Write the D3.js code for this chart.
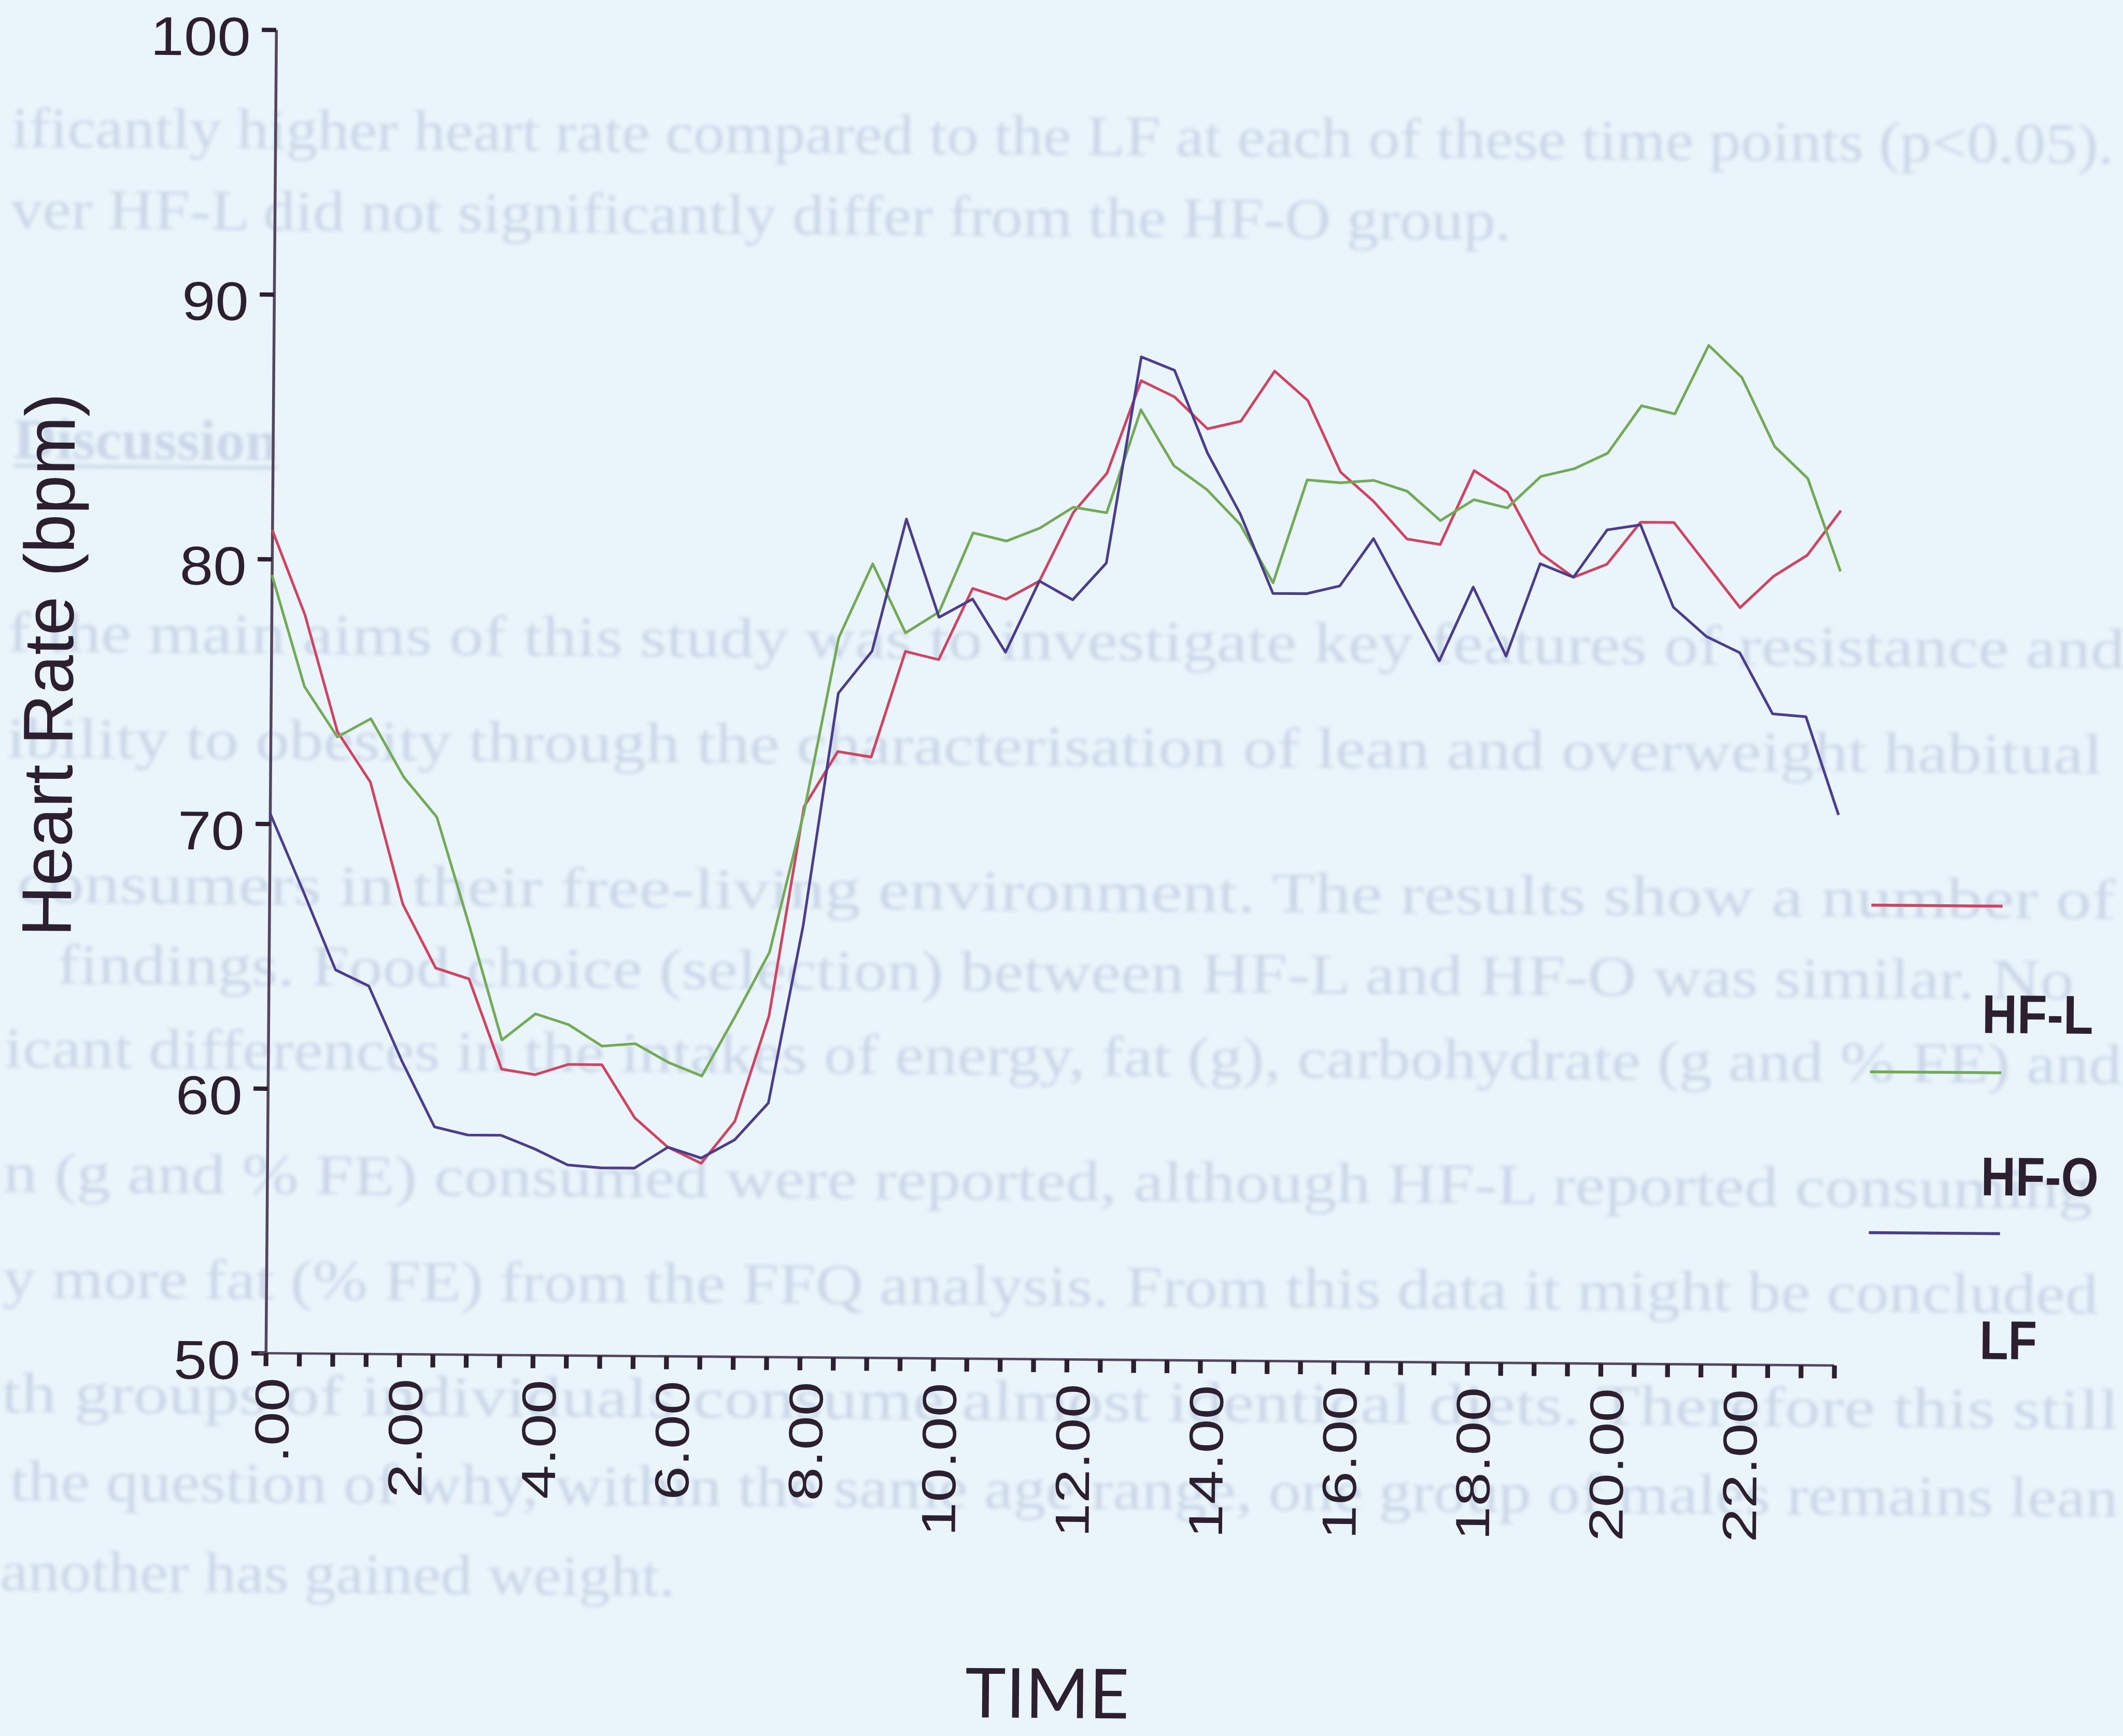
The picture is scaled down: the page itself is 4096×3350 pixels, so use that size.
<!DOCTYPE html>
<html>
<head>
<meta charset="utf-8">
<script src="https://cdn.jsdelivr.net/npm/d3@7"></script>
<style>
  html, body { margin: 0; padding: 0; background: #e9f4fb; overflow: hidden; }
  svg { display: block; }
</style>
</head>
<body>
<svg id="chart" width="4096" height="3350"></svg>
<script>
// ---- data: mean heart rate over 24 h, sampled every half hour ----
const hours = [0, 0.5, 1, 1.5, 2, 2.5, 3, 3.5, 4, 4.5, 5, 5.5, 6, 6.5, 7, 7.5,
               8, 8.5, 9, 9.5, 10, 10.5, 11, 11.5, 12, 12.5, 13, 13.5, 14, 14.5, 15, 15.5,
               16, 16.5, 17, 17.5, 18, 18.5, 19, 19.5, 20, 20.5, 21, 21.5, 22, 22.5, 23, 23.5];

const hfL = [81.1, 77.9, 73.5, 71.6, 67.0, 64.6, 64.2, 60.8,
             60.6, 61.0, 61.0, 59.0, 57.9, 57.3, 58.9, 62.9,
             70.8, 72.9, 72.7, 76.7, 76.4, 79.1, 78.7, 79.4,
             82.0, 83.5, 87.0, 86.4, 85.2, 85.5, 87.4, 86.3,
             83.6, 82.5, 81.1, 80.9, 83.7, 82.9, 80.6, 79.7,
             80.2, 81.8, 81.8, 80.2, 78.6, 79.8, 80.6, 82.3];

const hfO = [79.4, 75.2, 73.3, 74.0, 71.8, 70.3, 66.2, 61.9,
             62.9, 62.5, 61.7, 61.8, 61.1, 60.6, 62.9, 65.3,
             70.6, 77.2, 80.0, 77.4, 78.2, 81.2, 80.9, 81.4,
             82.2, 82.0, 85.9, 83.8, 82.9, 81.6, 79.4, 83.3,
             83.2, 83.3, 82.9, 81.8, 82.6, 82.3, 83.5, 83.8,
             84.4, 86.2, 85.9, 88.5, 87.3, 84.7, 83.5, 80.0];

const lf  = [70.4, 67.5, 64.5, 63.9, 61.1, 58.6, 58.3, 58.3,
             57.8, 57.2, 57.1, 57.1, 57.9, 57.5, 58.2, 59.6,
             66.3, 75.1, 76.7, 81.7, 78.0, 78.7, 76.7, 79.4,
             78.7, 80.1, 87.9, 87.4, 84.3, 82.0, 79.0, 79.0,
             79.3, 81.1, 78.8, 76.5, 79.3, 76.7, 80.2, 79.7,
             81.5, 81.7, 78.6, 77.5, 76.9, 74.6, 74.5, 70.8];

const seriesNames  = ["HF-L", "HF-O", "LF"];
const seriesColors = ["#cf4461", "#73aa57", "#4b3d8c"];

const yTicks = [50, 60, 70, 80, 90, 100];
const xTickLabels = [".00", "2.00", "4.00", "6.00", "8.00", "10.00",
                     "12.00", "14.00", "16.00", "18.00", "20.00", "22.00"];

const yTitle = "Heart Rate (bpm)";
const xTitle = "TIME";

// faint show-through text from the other side of the sheet (as far as it shows)
const backText = [
  "ificantly higher heart rate compared to the LF at each of these time points (p<0.05).",
  "ver HF-L did not significantly differ from the HF-O group.",
  "Discussion",
  "f the main aims of this study was to investigate key features of resistance and",
  "ibility to obesity through the characterisation of lean and overweight habitual",
  "consumers in their free-living environment. The results show a number of",
  "findings. Food choice (selection) between HF-L and HF-O was similar. No",
  "icant differences in the intakes of energy, fat (g), carbohydrate (g and % FE) and",
  "n (g and % FE) consumed were reported, although HF-L reported consuming",
  "y more fat (% FE) from the FFQ analysis. From this data it might be concluded",
  "th groups of individuals consume almost identical diets. Therefore this still",
  "the question of why, within the same age range, one group of males remains lean",
  "another has gained weight."
];

// ---- drawing ----
const S = 0.924;
const sans = "'Liberation Sans', Arial, Helvetica, sans-serif";
const ink = "#2c2030";
const axisInk = "#54465f";

const svg = d3.select("#chart");
svg.append("rect").attr("width", 4096).attr("height", 3350).attr("fill", "#e9f4fb");

const defs = svg.append("defs");
defs.append("filter").attr("id", "soft")
  .attr("x", "-5%").attr("y", "-50%").attr("width", "110%").attr("height", "200%")
  .append("feGaussianBlur").attr("stdDeviation", 4);

// whole sheet sits slightly skewed
const root = svg.append("g").attr("transform", `scale(${S}) rotate(0.45 555 2826)`);

// show-through page text (layout: baseline, left, right)
const backLayout = [
  [311, 4, 4394], [480, 4, 3137], [961, 14, 565], [1365, 4, 4425],
  [1585, 4, 4380], [1888, 28, 4409], [2057, 113, 4324], [2233, 4, 4425],
  [2493, 4, 4366], [2713, 4, 4380], [2953, 4, 4425], [3137, 23, 4425],
  [3326, 4, 1413]
];
const back = root.append("g").attr("filter", "url(#soft)");
back.selectAll("text").data(backText).join("text")
  .attr("x", (d, i) => backLayout[i][1])
  .attr("y", (d, i) => backLayout[i][0])
  .attr("textLength", (d, i) => backLayout[i][2] - backLayout[i][1])
  .attr("lengthAdjust", "spacingAndGlyphs")
  .attr("font-family", "'Liberation Serif', 'Times New Roman', serif")
  .attr("font-size", 120)
  .attr("font-weight", d => d === "Discussion" ? "bold" : "normal")
  .attr("fill", "#cad7e7")
  .text(d => d);
back.append("line")
  .attr("x1", backLayout[2][1]).attr("x2", backLayout[2][2])
  .attr("y1", backLayout[2][0] + 16).attr("y2", backLayout[2][0] + 16)
  .attr("stroke", "#cad7e7").attr("stroke-width", 7);

// scales
const x = d3.scaleLinear().domain([0, 23.5]).range([555, 3830]);
const y = d3.scaleLinear().domain([50, 100]).range([2826, 62]);

// y axis
const gy = root.append("g").attr("transform", `translate(${x(0)},0)`)
  .call(d3.axisLeft(y).tickValues(yTicks).tickSize(30).tickSizeOuter(0).tickFormat(d3.format("d")));
gy.select(".domain").attr("stroke", axisInk).attr("stroke-width", 6);
gy.selectAll(".tick line").attr("stroke", ink).attr("stroke-width", 9);
gy.selectAll(".tick text")
  .attr("x", 0).attr("y", 0).attr("dy", null)
  .attr("transform", "translate(-53,54) scale(1.1,1)")
  .attr("text-anchor", "end")
  .attr("font-family", sans).attr("font-size", 114).attr("fill", ink);

// x axis: a tick every half hour, labels on even hours
const gx = root.append("g").attr("transform", `translate(0,${y(50)})`)
  .call(d3.axisBottom(x).tickValues(hours).tickSize(27).tickSizeOuter(0)
    .tickFormat(d => (d % 2 === 0 ? xTickLabels[d / 2] : "")));
gx.select(".domain")
  .attr("d", `M${x(0) - 15},0H${x(23.5)}`)
  .attr("stroke", axisInk).attr("stroke-width", 5);
gx.selectAll(".tick line").attr("stroke", ink).attr("stroke-width", 10);
gx.selectAll(".tick text")
  .attr("x", 0).attr("y", 0).attr("dy", null)
  .attr("transform", "translate(48,51) rotate(-90) scale(1.28,1)")
  .attr("text-anchor", "end")
  .attr("font-family", sans).attr("font-size", 100).attr("fill", ink);

// axis titles
root.append("text")
  .attr("transform", "translate(141,1392) rotate(-90)")
  .attr("text-anchor", "middle")
  .attr("font-family", sans).attr("font-size", 147).attr("fill", ink)
  .text(yTitle);
root.append("text")
  .attr("x", 2192).attr("y", 3575)
  .attr("text-anchor", "middle")
  .attr("font-family", "Lato, 'Open Sans', sans-serif").attr("font-size", 144).attr("fill", ink)
  .text(xTitle);

// series lines
const series = [hfL, hfO, lf].map((vals, i) => ({
  name: seriesNames[i],
  color: seriesColors[i],
  points: hours.map((h, j) => ({ h, v: vals[j] }))
}));
const line = d3.line().x(d => x(d.h)).y(d => y(d.v));
root.append("g").selectAll("path").data(series).join("path")
  .attr("d", d => line(d.points))
  .attr("fill", "none")
  .attr("stroke", d => d.color)
  .attr("stroke-width", 5.5)
  .attr("stroke-linejoin", "round");

// legend: sample line with the name set below it
const legendLineY = [1864, 2212, 2548];
const legendTextY = [2129, 2468, 2810];
const legendTextW = [232, 246, 120];
const lg = root.append("g");
series.forEach((s, i) => {
  lg.append("line")
    .attr("x1", 3900).attr("x2", 4174)
    .attr("y1", legendLineY[i]).attr("y2", legendLineY[i])
    .attr("stroke", s.color).attr("stroke-width", 6);
  lg.append("text")
    .attr("x", 4133).attr("y", legendTextY[i])
    .attr("textLength", legendTextW[i]).attr("lengthAdjust", "spacingAndGlyphs")
    .attr("font-family", sans).attr("font-weight", "bold").attr("font-size", 114)
    .attr("fill", ink)
    .text(s.name);
});
</script>
</body>
</html>
